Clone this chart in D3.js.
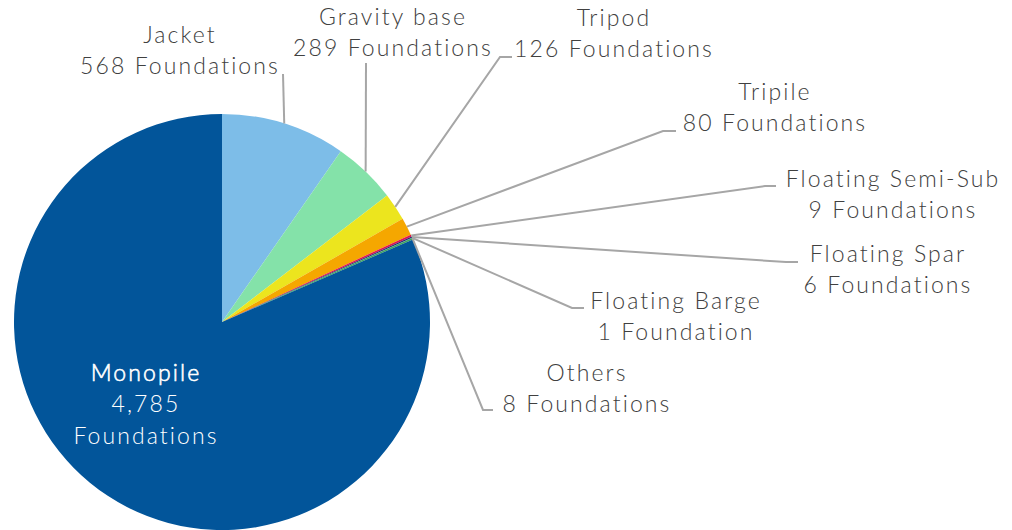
<!DOCTYPE html>
<html><head><meta charset="utf-8">
<script src="https://cdn.jsdelivr.net/npm/d3@7"></script>
<style>
body{margin:0;background:#fff;}
svg text{font-family:Lato,"Open Sans",sans-serif;font-weight:300;}
</style></head>
<body><svg id="c" width="1012" height="530"></svg>
<script>
// data, in clockwise order starting at 12 o'clock
const categories = ["Jacket","Gravity base","Tripod","Tripile","Floating Semi-Sub","Floating Spar","Floating Barge","Others","Monopile"];
const values = [568,289,126,80,9,6,1,8,4785];
const colors = ["#7dbde8","#84e2a9","#ece51e","#f5a700","#e3134e","#2d2a70","#1d70b8","#3da85a","#02559a"];

// label layout (elbow point, end point of leader; text centre x and first baseline)
const labelLayout = {
  "Jacket":            {elbow:[283,74], end:[283,74], tx:180, ty:43},
  "Gravity base":      {elbow:[366,63], end:[366,63], tx:393, ty:25},
  "Tripod":            {elbow:[500,57], end:[512,57], tx:614, ty:26},
  "Tripile":           {elbow:[663,131], end:[676,131], tx:775, ty:100},
  "Floating Semi-Sub": {elbow:[765,186], end:[776,186], tx:893, ty:187},
  "Floating Spar":     {elbow:[786,262], end:[798,262], tx:888, ty:262},
  "Floating Barge":    {elbow:[572,308], end:[584,308], tx:676, ty:309},
  "Others":            {elbow:[483,410], end:[493,410], tx:587, ty:381}
};

const svg = d3.select("#c");
const cx = 222, cy = 322, r = 208;
const g = svg.append("g").attr("transform",`translate(${cx},${cy})`);
const data = categories.map((c,i)=>({name:c,value:values[i],color:colors[i]}));
const pie = d3.pie().value(d=>d.value).sort(null);
const arcs = pie(data);
const arc = d3.arc().innerRadius(0).outerRadius(r);
g.selectAll("path.slice").data(arcs).join("path")
  .attr("class","slice").attr("d",arc).attr("fill",d=>d.data.color);

const fmt = d3.format(",");
const lh = 31;
arcs.forEach(a=>{
  const L = labelLayout[a.data.name];
  if(!L) return;
  const m = (a.startAngle+a.endAngle)/2;
  const p0 = [cx + r*Math.sin(m), cy - r*Math.cos(m)];
  svg.append("polyline")
    .attr("points",[p0,L.elbow,L.end].map(p=>p.join(",")).join(" "))
    .attr("fill","none").attr("stroke","#a6a6a6").attr("stroke-width",2);
  const t = svg.append("text").attr("text-anchor","middle").attr("fill","#404040")
    .attr("font-size",23).attr("letter-spacing",2.1);
  t.append("tspan").attr("x",L.tx).attr("y",L.ty).text(a.data.name);
  t.append("tspan").attr("x",L.tx).attr("y",L.ty+lh)
    .text(fmt(a.data.value)+" "+(a.data.value===1?"Foundation":"Foundations"));
});

// Monopile label inside
const mono = arcs.find(a=>a.data.name==="Monopile");
const mt = svg.append("text").attr("text-anchor","middle").attr("fill","#ffffff")
  .attr("font-size",23).attr("letter-spacing",2.1);
mt.append("tspan").attr("x",146).attr("y",381).attr("stroke","#ffffff").attr("stroke-width",0.6).text(mono.data.name);
mt.append("tspan").attr("x",146).attr("y",412).text(fmt(mono.data.value));
mt.append("tspan").attr("x",146).attr("y",444).text("Foundations");
</script></body></html>
